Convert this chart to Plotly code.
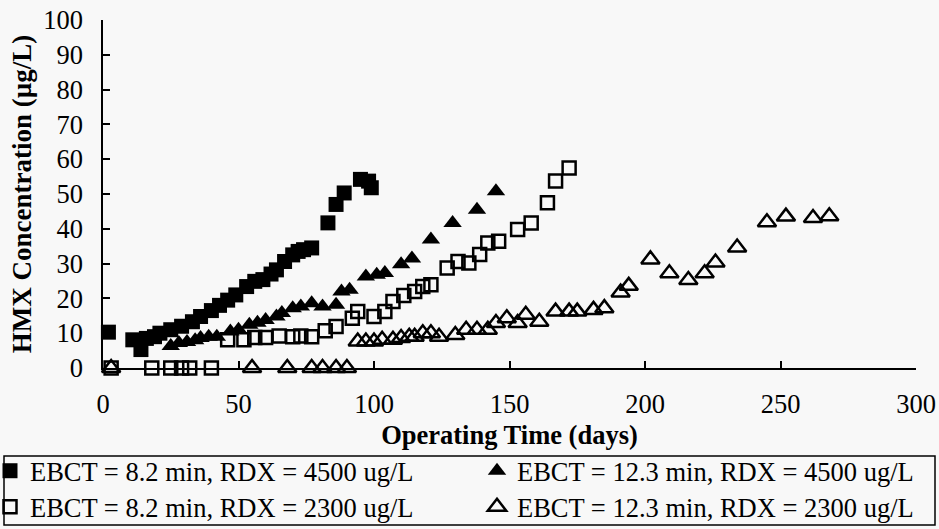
import plotly.graph_objects as go

# Series: EBCT = 8.2 min, RDX = 4500 ug/L (filled squares)
a_days = [2, 11, 14, 16, 19, 21, 25, 29, 33, 36, 40, 43, 46, 49, 53, 56, 59, 62, 64, 67,
          70, 72, 74, 77, 83, 86, 89, 95, 98, 99]
a_vals = [10.3, 8.1, 5.3, 8.5, 9.0, 10.0, 11.0, 12.0, 13.3, 14.8, 16.5, 18.0, 19.5, 21.0, 23.4,
          24.9, 25.4, 27.0, 28.2, 30.6, 32.5, 33.5, 34.0, 34.5, 41.7, 47.0, 50.3, 54.2, 53.7, 51.8]

# Series: EBCT = 12.3 min, RDX = 4500 ug/L (filled triangles)
b_days = [25, 28, 31, 34, 36, 39, 42, 47, 50, 54, 57, 60, 64, 66, 70, 73, 77, 81, 86, 88,
          91, 97, 101, 104, 110, 114, 121, 129, 138, 145]
b_vals = [6.3, 7.2, 7.5, 8.0, 8.6, 9.0, 9.0, 10.5, 11.0, 12.4, 13.0, 13.8, 14.8, 15.8, 17.2,
          17.7, 18.6, 17.7, 18.2, 22.0, 22.5, 26.3, 26.8, 27.3, 29.8, 31.5, 36.9, 41.7, 45.5, 50.8]

# Series: EBCT = 8.2 min, RDX = 2300 ug/L (open squares)
c_days = [3, 18, 25, 29, 32, 40, 46, 52, 56, 60, 65, 70, 73, 77, 82, 86, 92, 94, 100, 104,
          107, 111, 115, 118, 121, 127, 131, 135, 139, 142, 146, 153, 158, 164, 167, 172]
c_vals = [0, 0, 0, 0, 0, 0, 8.1, 8.1, 8.8, 8.8, 9.2, 9.0, 9.2, 9.0, 10.7, 11.9, 14.3, 16.2,
          14.8, 16.2, 19.1, 20.8, 22.0, 23.4, 23.9, 28.7, 30.6, 30.2, 32.6, 35.9, 36.4, 39.8,
          41.7, 47.5, 53.7, 57.5]

# Series: EBCT = 12.3 min, RDX = 2300 ug/L (open triangles)
d_days = [3, 55, 68, 77, 81, 86, 90, 94, 97, 100, 103, 107, 110, 113, 115, 118, 121, 124,
          130, 134, 138, 142, 145, 149, 153, 156, 161, 167, 172, 175, 181, 185, 191, 194,
          202, 209, 216, 222, 226, 234, 245, 252, 262, 268]
d_vals = [0, 0, 0, 0, 0, 0, 0, 7.6, 7.6, 7.6, 8.1, 8.1, 8.6, 9.0, 9.0, 10.0, 10.0, 9.0,
          9.5, 11.0, 11.0, 11.0, 12.9, 14.3, 12.9, 15.3, 13.3, 16.2, 16.2, 16.2, 16.7, 17.2,
          21.7, 23.6, 31.2, 27.2, 25.3, 27.2, 30.3, 34.6, 41.9, 43.5, 43.1, 43.6]

names = ["EBCT = 8.2 min, RDX = 4500 ug/L", "EBCT = 12.3 min, RDX = 4500 ug/L",
         "EBCT = 8.2 min, RDX = 2300 ug/L", "EBCT = 12.3 min, RDX = 2300 ug/L"]

x_ticks = [0, 50, 100, 150, 200, 250, 300]
y_ticks = [0, 10, 20, 30, 40, 50, 60, 70, 80, 90, 100]

FONT = "Liberation Serif, Times New Roman, serif"
FS = 26.5
FIG_W, FIG_H = 939, 529

fig = go.Figure()
fig.add_trace(go.Scatter(x=a_days, y=a_vals, mode="markers", name=names[0], legend="legend",
                         marker=dict(symbol="square", size=15, color="black"), cliponaxis=False))
fig.add_trace(go.Scatter(x=b_days, y=b_vals, mode="markers", name=names[1], legend="legend2",
                         marker=dict(symbol="triangle-up", size=16, color="black"), cliponaxis=False))
fig.add_trace(go.Scatter(x=c_days, y=c_vals, mode="markers", name=names[2], legend="legend3",
                         marker=dict(symbol="square-open", size=13, color="black",
                                     line=dict(width=2.5, color="black")), cliponaxis=False))
fig.add_trace(go.Scatter(x=d_days, y=d_vals, mode="markers", name=names[3], legend="legend4",
                         marker=dict(symbol="triangle-up-open", size=16, color="black",
                                     line=dict(width=2.5, color="black")), cliponaxis=False))

# plot area (pixels)
L, R, T, B = 103, 916, 20, 368
W, H = R - L, B - T
def px(v):
    return (v - L) / W
def py(v):
    return (B - v) / H

fig.add_shape(type="rect", xref="paper", yref="paper",
              x0=px(4), x1=px(935), y0=py(525), y1=py(456),
              line=dict(color="black", width=1.5), fillcolor="rgba(0,0,0,0)")

leg_common = dict(orientation="v", yanchor="top", xanchor="left",
                  font=dict(family=FONT, size=FS, color="black"),
                  bgcolor="rgba(0,0,0,0)", borderwidth=0, tracegroupgap=0)

COL1, COL2 = -10, 477
ROW1, ROW2 = 447, 483

fig.update_layout(
    width=FIG_W, height=FIG_H,
    margin=dict(l=L, r=FIG_W - R, t=T, b=FIG_H - B, autoexpand=False),
    paper_bgcolor="#f8f8f8", plot_bgcolor="#f8f8f8",
    font=dict(family=FONT, color="black", size=FS),
    showlegend=True,
    legend=dict(x=px(COL1), y=py(ROW1), **leg_common),
    legend2=dict(x=px(COL2), y=py(ROW1), **leg_common),
    legend3=dict(x=px(COL1), y=py(ROW2), **leg_common),
    legend4=dict(x=px(COL2), y=py(ROW2), **leg_common),
    xaxis=dict(range=[0, 300], tickvals=x_ticks, ticks="inside", ticklen=7, tickwidth=1.5,
               tickcolor="black", showline=True, linecolor="black", linewidth=1.5,
               showgrid=False, zeroline=False, mirror=False, ticklabelstandoff=11,
               tickfont=dict(family=FONT, size=FS),
               title=dict(text="<b>Operating Time (days)</b>", font=dict(family=FONT, size=FS),
                          standoff=8)),
    yaxis=dict(range=[0, 100], tickvals=y_ticks, ticks="inside", ticklen=7, tickwidth=1.5,
               tickcolor="black", showline=True, linecolor="black", linewidth=1.5,
               showgrid=False, zeroline=False, mirror=False, ticklabelstandoff=13,
               tickfont=dict(family=FONT, size=FS),
               title=dict(text="<b>HMX Concentration (µg/L)</b>", font=dict(family=FONT, size=27),
                          standoff=4)),
)

fig.write_html("out.html")
